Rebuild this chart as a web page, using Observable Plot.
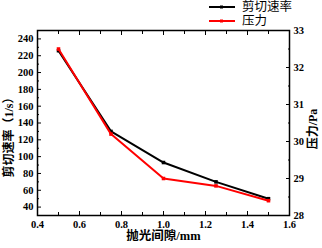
<!DOCTYPE html>
<html><head><meta charset="utf-8">
<script src="https://cdn.jsdelivr.net/npm/d3@7"></script>
<script src="https://cdn.jsdelivr.net/npm/@observablehq/plot@0.6"></script>
<style>
body{margin:0;background:#fff;}
#wrap{position:relative;width:322px;height:248px;}
#legend{position:absolute;left:209px;top:0;font:12.5px "Liberation Serif","Noto Sans CJK SC",serif;line-height:14px;}
#legend div{display:flex;align-items:center;height:14px;}
#legend svg{margin-right:7px;}
</style></head>
<body><div id="wrap"><div id="legend"></div></div>
<script>
const gaps = [0.5, 0.75, 1.0, 1.25, 1.5];
const shearRate = [226, 130, 93, 70, 50];
const pressure = [32.5, 30.2, 29.0, 28.8, 28.4];
const seriesNames = ["剪切速率", "压力"];
const seriesColors = ["#000000", "#ff0000"];
const xTicks = [0.4, 0.6, 0.8, 1.0, 1.2, 1.4, 1.6];
const xMinor = [0.5, 0.7, 0.9, 1.1, 1.3, 1.5];
const yTicks = [40, 60, 80, 100, 120, 140, 160, 180, 200, 220, 240];
const yMinor = [30, 50, 70, 90, 110, 130, 150, 170, 190, 210, 230, 250];
const y2Ticks = [28, 29, 30, 31, 32, 33];
const y2Minor = [28.5, 29.5, 30.5, 31.5, 32.5];
const yDomain = [30, 250];
const y2Domain = [28, 33];

const toLeft = d3.scaleLinear().domain(y2Domain).range(yDomain);
const shearData = gaps.map((g, i) => ({x: g, y: shearRate[i]}));
const pressData = gaps.map((g, i) => ({x: g, y: toLeft(pressure[i])}));

const font = {fontFamily: "'Liberation Serif','Noto Sans CJK SC',serif", fontWeight: "bold", fontSize: 10.5};

const chart = Plot.plot({
  width: 322, height: 248,
  marginLeft: 37, marginRight: 33, marginTop: 30, marginBottom: 33,
  style: {fontFamily: "'Liberation Serif','Noto Sans CJK SC',serif", fontSize: "10px", color: "#000", background: "#fff"},
  x: {domain: [0.4, 1.6]},
  y: {domain: yDomain},
  marks: [
    Plot.axisX({ticks: xTicks, tickSize: -4, tickPadding: 9, tickFormat: d3.format(".1f"), ...font, label: null}),
    Plot.axisX({ticks: xMinor, tickSize: -3, text: null, label: null}),
    Plot.axisX({anchor: "top", ticks: xTicks, tickSize: -4, text: null, label: null}),
    Plot.axisX({anchor: "top", ticks: xMinor, tickSize: -3, text: null, label: null}),
    Plot.axisY({ticks: yTicks, tickSize: -4, tickPadding: 8, ...font, label: null}),
    Plot.axisY({ticks: yMinor, tickSize: -2, text: null, label: null}),
    Plot.axisY({anchor: "right", ticks: y2Ticks.map(toLeft), tickSize: -4, tickPadding: 8,
      tickFormat: d => String(Math.round(toLeft.invert(d))), ...font, label: null}),
    Plot.axisY({anchor: "right", ticks: y2Minor.map(toLeft), tickSize: -2, text: null, label: null}),
    Plot.text(["抛光间隙/mm"], {frameAnchor: "bottom", dy: 24, fontSize: 12.5, fontWeight: "bold"}),
    Plot.text(["剪切速率（1/s）"], {frameAnchor: "left", textAnchor: "middle", rotate: -90, dx: -28, dy: 11.5, fontSize: 12, fontWeight: "bold"}),
    Plot.text(["压力/Pa"], {frameAnchor: "right", textAnchor: "middle", rotate: -90, dx: 24, dy: 6, fontSize: 12, fontWeight: "bold"}),
    Plot.line(shearData, {x: "x", y: "y", stroke: seriesColors[0], strokeWidth: 2}),
    Plot.dot(shearData, {x: "x", y: "y", symbol: "square", r: 2, fill: seriesColors[0]}),
    Plot.line(pressData, {x: "x", y: "y", stroke: seriesColors[1], strokeWidth: 2}),
    Plot.dot(pressData, {x: "x", y: "y", symbol: "square", r: 2, fill: seriesColors[1]}),
    Plot.frame({stroke: "#000", strokeWidth: 1.5})
  ]
});
document.getElementById("wrap").appendChild(chart);

const legend = document.getElementById("legend");
seriesNames.forEach((name, i) => {
  const row = document.createElement("div");
  row.innerHTML = `<svg width="26" height="6"><line x1="0" y1="3" x2="26" y2="3" stroke="${seriesColors[i]}" stroke-width="2"/><rect x="11" y="1.5" width="3" height="3" fill="${seriesColors[i]}"/></svg><span>${name}</span>`;
  legend.appendChild(row);
});
</script></body></html>
